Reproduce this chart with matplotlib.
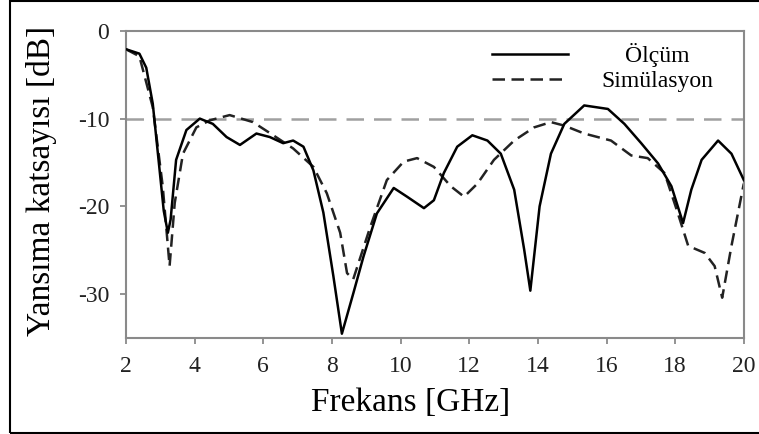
import matplotlib
matplotlib.use("Agg")
import matplotlib.pyplot as plt
from matplotlib.patches import Rectangle

plt.rcParams['font.family'] = ['Liberation Serif', 'DejaVu Serif']

olcum_f = [2.0, 2.39, 2.59, 2.78, 2.98, 3.1, 3.22, 3.3, 3.46, 3.76, 4.15, 4.53,
           4.93, 5.32, 5.8, 6.19, 6.58, 6.87, 7.17, 7.46, 7.75, 8.04, 8.29, 8.63,
           8.92, 9.31, 9.8, 10.19, 10.68, 10.97, 11.26, 11.65, 12.09, 12.53, 12.92,
           13.31, 13.6, 13.78, 14.05, 14.38, 14.77, 15.35, 16.04, 16.52, 17.01,
           17.5, 17.89, 18.23, 18.47, 18.77, 19.25, 19.64, 20.0]
olcum_db = [-2.1, -2.6, -4.2, -8.3, -15.9, -20.5, -23.0, -21.5, -14.7, -11.3, -10.0, -10.6,
            -12.1, -13.0, -11.7, -12.1, -12.8, -12.5, -13.2, -15.9, -20.7, -27.9, -34.5, -29.8,
            -25.7, -20.8, -17.9, -18.9, -20.2, -19.3, -16.2, -13.2, -11.9, -12.5, -14.0,
            -18.1, -24.9, -29.6, -20.0, -14.0, -10.6, -8.5, -8.9, -10.6, -12.8,
            -15.1, -17.7, -21.9, -18.1, -14.7, -12.5, -14.0, -17.0]

# simulasyon curve
sim_f = [2.0, 2.39, 2.78, 3.07, 3.27, 3.42, 3.66, 4.05, 4.44, 5.02, 5.7, 6.29,
         6.87, 7.46, 7.85, 8.24, 8.44, 8.62, 9.12, 9.6, 10.09, 10.48, 10.97, 11.46,
         11.85, 12.24, 12.72, 13.31, 13.89, 14.38, 14.77, 15.35, 16.13, 16.72, 17.2,
         17.69, 18.08, 18.38, 18.86, 19.15, 19.37, 19.64, 20.0]
sim_db = [-2.1, -2.9, -8.7, -17.7, -26.8, -19.6, -14.0, -11.0, -10.2, -9.6, -10.4, -11.9,
          -13.4, -15.5, -18.5, -23.0, -27.6, -28.3, -22.3, -17.0, -14.9, -14.5, -15.5, -17.7,
          -18.9, -17.4, -14.7, -12.5, -11.0, -10.4, -10.8, -11.7, -12.5, -14.2, -14.5,
          -16.2, -20.8, -24.5, -25.3, -26.8, -30.4, -24.5, -17.4]

esik = -10
x_ticks = [2, 4, 6, 8, 10, 12, 14, 16, 18, 20]
y_ticks = [0, -10, -20, -30]
y_labels = ['0', '-10', '-20', '-30']

fig = plt.figure(figsize=(7.59, 4.34), dpi=100)
ax = fig.add_axes([0.166, 0.221, 0.814, 0.708])

ax.axhline(esik, color='#a0a0a0', lw=1.8, dashes=(7, 4), zorder=1)
ax.plot(olcum_f, olcum_db, color='black', lw=1.8, label='Ölçüm', zorder=3)
ax.plot(sim_f, sim_db, color='#222222', lw=1.8, dashes=(5, 2.6), label='Simülasyon', zorder=2)

ax.set_xlim(2, 20)
ax.set_ylim(-35, 0)
ax.set_xticks(x_ticks)
ax.set_yticks(y_ticks)
ax.set_yticklabels(y_labels)

for s in ax.spines.values():
    s.set_color('#8a8a8a')
    s.set_linewidth(1.5)
ax.tick_params(direction='out', length=4, width=1.3, color='#8a8a8a',
               labelsize=17, labelcolor='#222222')
ax.tick_params(axis='x', pad=9)
ax.tick_params(axis='y', pad=8)

ax.set_xlabel('Frekans [GHz]', fontsize=24)
ax.set_ylabel('Yansıma katsayısı [dB]', fontsize=24)
ax.xaxis.set_label_coords(0.46, -0.16)
ax.yaxis.set_label_coords(-0.112, 0.511)

leg = ax.legend(loc='upper right', frameon=False, fontsize=17, handlelength=3.2,
                handletextpad=1.4, labelspacing=0.15, borderaxespad=0.0,
                bbox_to_anchor=(0.965, 0.99))

# center the short label over the long one, like the original
txts = leg.get_texts()
dx = 0.0
for _ in range(3):
    fig.canvas.draw()
    b0 = txts[0].get_window_extent()
    b1 = txts[1].get_window_extent()
    err = (b1.x0 + b1.x1) / 2 - (b0.x0 + b0.x1) / 2
    dx += err
    txts[0].set_position((dx, 0))

# thin black frame around the whole picture
fig.patches.append(Rectangle((9.5 / 759, 1.5 / 434), 1.0, 431.5 / 434,
                             transform=fig.transFigure, fill=False,
                             edgecolor='black', lw=1.5))

fig.savefig('out.png', dpi=100)
